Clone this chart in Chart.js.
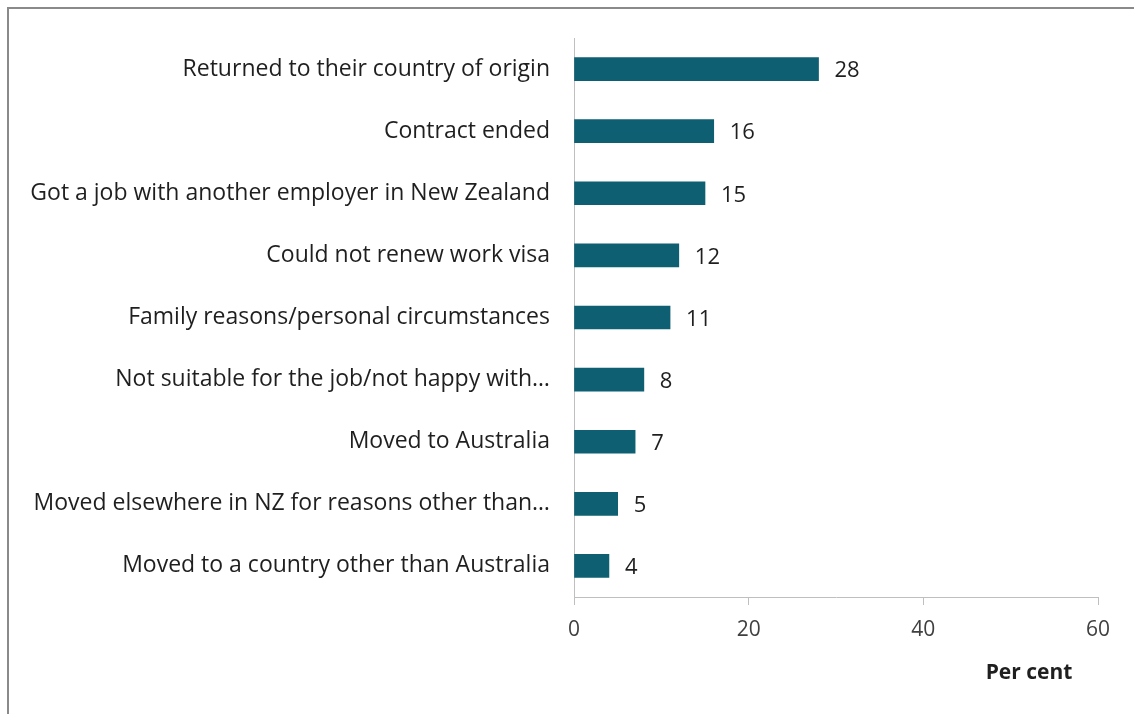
<!DOCTYPE html>
<html lang="en">
  <head>
    <title>Reasons for leaving</title>
    <meta charset="utf-8">
    <style>
      html, body { margin: 0; padding: 0; background: #fff; overflow: hidden; }
      #frame { position: absolute; left: 7px; top: 7px; width: 1140px; height: 720px; border: 2px solid #8a8a8a; }
      #wrap { position: absolute; left: 0; top: 0; width: 1134px; height: 714px; }
    </style>
  </head>
  <body>
    <div id="frame"></div>
    <div id="wrap">
      <canvas id="myChart" width="1134" height="714"></canvas>
    </div>

    <script src="https://cdn.jsdelivr.net/npm/chart.js@4.4.0/dist/chart.umd.min.js"></script>
    <script>
    // data
    const reasons = [
      'Returned to their country of origin',
      'Contract ended',
      'Got a job with another employer in New Zealand',
      'Could not renew work visa',
      'Family reasons/personal circumstances',
      'Not suitable for the job/not happy with…',
      'Moved to Australia',
      'Moved elsewhere in NZ for reasons other than…',
      'Moved to a country other than Australia'
    ]
    const perCent = [28, 16, 15, 12, 11, 8, 7, 5, 4]
    const xTicks = [0, 20, 40, 60]
    const axisTitle = 'Per cent'

    const fontFamily = '"Open Sans", "Liberation Sans", sans-serif'
    const textColour = '#1f1f1f'

    // value labels after each bar + the axis title under the right end
    const extras = {
      id: 'extras',
      afterDatasetsDraw(chart) {
        const ctx = chart.ctx
        const meta = chart.getDatasetMeta(0)
        ctx.save()
        ctx.fillStyle = textColour
        ctx.font = '22px ' + fontFamily
        ctx.textBaseline = 'middle'
        ctx.textAlign = 'left'
        meta.data.forEach(function(bar, i) {
          ctx.fillText(String(perCent[i]), bar.x + 16, bar.y + 2)
        })
        ctx.font = 'bold 21px ' + fontFamily
        ctx.textAlign = 'center'
        const xs = chart.scales.x
        ctx.fillText(axisTitle, chart.chartArea.right - 69, xs.bottom - 41)
        ctx.restore()
      }
    }

    const ctx = document.getElementById('myChart').getContext('2d')
    window.myChart = new Chart(ctx, {
      type: 'bar',
      data: {
        labels: reasons,
        datasets: [{
          data: perCent,
          backgroundColor: '#0e5f72',
          barThickness: 23
        }]
      },
      options: {
        indexAxis: 'y',
        responsive: false,
        animation: false,
        layout: { padding: { left: 0, right: 36, top: 38, bottom: 0 } },
        plugins: {
          legend: { display: false },
          tooltip: { enabled: false }
        },
        scales: {
          x: {
            min: 0,
            max: 60,
            afterBuildTicks: function(scale) {
              scale.ticks = xTicks.map(function(v) { return { value: v } })
            },
            afterFit: function(scale) { scale.height = 117 },
            grid: {
              display: true,
              drawOnChartArea: false,
              drawTicks: true,
              tickLength: 8,
              color: '#bfbfbf'
            },
            border: { display: true, color: '#bfbfbf', width: 1 },
            ticks: {
              color: '#404040',
              padding: 12,
              font: { size: 21, family: fontFamily }
            }
          },
          y: {
            afterFit: function(scale) { scale.width = 574 },
            grid: { display: false, drawTicks: false },
            border: { display: true, color: '#bfbfbf', width: 1 },
            ticks: {
              color: textColour,
              padding: 24,
              autoSkip: false,
              font: { size: 23, family: fontFamily }
            }
          }
        }
      },
      plugins: [extras]
    })
    </script>
  </body>
</html>
